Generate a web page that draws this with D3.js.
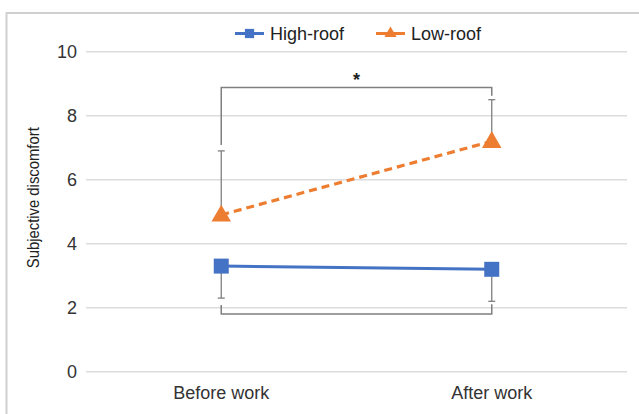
<!DOCTYPE html>
<html>
<head>
<meta charset="utf-8">
<script src="https://cdn.jsdelivr.net/npm/d3@7"></script>
<style>
  html, body { margin: 0; padding: 0; background: #fff; }
  svg { display: block; font-family: "Liberation Sans", Arial, sans-serif; }
</style>
</head>
<body>
<svg id="chart" width="639" height="414"></svg>
<script>
// Time points and mean discomfort per roof condition
const categories = ["Before work", "After work"];
const highRoof = [3.3, 3.2];
const lowRoof = [4.9, 7.2];
// Standard deviations (drawn one-sided: low-roof upward, high-roof downward)
const highRoofSD = [1.0, 1.0];
const lowRoofSD = [2.0, 1.3];
const yTicks = [0, 2, 4, 6, 8, 10];
const seriesNames = ["High-roof", "Low-roof"];
// Significance brackets: level in data units, label
const topBracket = { level: 8.88, label: "*" };
const bottomBracket = { level: 1.8, label: "" };

const blue = "#4472C4", orange = "#ED7D31", gray = "#7f7f7f";

const svg = d3.select("#chart");

// Outer frame
svg.append("rect")
  .attr("x", 6.5).attr("y", 13).attr("width", 700).attr("height", 500)
  .attr("fill", "none").attr("stroke", "#d0d0d0").attr("stroke-width", 2);

const plot = { left: 86, right: 627, top: 51.7, bottom: 371.7 };

const x = d3.scaleBand().domain(categories).range([plot.left, plot.right]);
const cx = c => x(c) + x.bandwidth() / 2;
const y = d3.scaleLinear().domain([0, 10]).range([plot.bottom, plot.top]);

// Gridlines
svg.append("g").selectAll("line").data(yTicks).join("line")
  .attr("x1", plot.left).attr("x2", plot.right)
  .attr("y1", d => y(d)).attr("y2", d => y(d))
  .attr("stroke", "#dcdcdc").attr("stroke-width", 1.5);

// Y axis tick labels
const yAxis = svg.append("g")
  .attr("transform", `translate(${plot.left},0)`)
  .call(d3.axisLeft(y).tickValues(yTicks).tickSize(0).tickPadding(9));
yAxis.select(".domain").remove();
yAxis.selectAll("text")
  .attr("font-size", 18).attr("fill", "#333")
  .attr("font-family", "Liberation Sans, Arial, sans-serif");

// X axis labels
const xAxis = svg.append("g")
  .attr("transform", `translate(0,${plot.bottom})`)
  .call(d3.axisBottom(x).tickSize(0).tickPadding(15));
xAxis.select(".domain").remove();
xAxis.selectAll("text")
  .attr("font-size", 18).attr("fill", "#333")
  .attr("font-family", "Liberation Sans, Arial, sans-serif");

// Y axis title
svg.append("text")
  .attr("transform", `translate(39,${(y(0) + y(10)) / 2 - 14}) rotate(-90)`)
  .attr("text-anchor", "middle")
  .attr("font-size", 16.5).attr("fill", "#222")
  .attr("textLength", 141).attr("lengthAdjust", "spacingAndGlyphs")
  .text("Subjective discomfort");

// Error bars
function errorBars(means, sds, dir) {
  const g = svg.append("g").attr("stroke", gray).attr("stroke-width", 1.3);
  categories.forEach((c, i) => {
    const end = means[i] + dir * sds[i];
    g.append("line").attr("x1", cx(c)).attr("x2", cx(c))
      .attr("y1", y(means[i])).attr("y2", y(end));
    g.append("line").attr("x1", cx(c) - 3.5).attr("x2", cx(c) + 3.5)
      .attr("y1", y(end)).attr("y2", y(end));
  });
}
errorBars(lowRoof, lowRoofSD, 1);
errorBars(highRoof, highRoofSD, -1);

// Brackets
function bracket(level, ends, label) {
  const g = svg.append("g");
  const x0 = cx(categories[0]), x1 = cx(categories[1]);
  g.append("path")
    .attr("d", `M${x0},${ends[0]} V${y(level)} H${x1} V${ends[1]}`)
    .attr("fill", "none").attr("stroke", gray).attr("stroke-width", 1.5);
  if (label) {
    g.append("text")
      .attr("x", (x0 + x1) / 2).attr("y", y(level) - 2)
      .attr("text-anchor", "middle")
      .attr("font-size", 18).attr("font-weight", "bold").attr("fill", "#222")
      .text(label);
  }
}
bracket(topBracket.level,
  [y(lowRoof[0] + lowRoofSD[0]) - 6, y(lowRoof[1] + lowRoofSD[1]) - 4],
  topBracket.label);
bracket(bottomBracket.level,
  [y(highRoof[0] - highRoofSD[0]) + 7, y(highRoof[1] - highRoofSD[1]) + 3],
  bottomBracket.label);

// Lines
const line = d3.line().x((d, i) => cx(categories[i])).y(d => y(d));
svg.append("path").datum(highRoof).attr("d", line)
  .attr("fill", "none").attr("stroke", blue).attr("stroke-width", 3);
svg.append("path").datum(lowRoof).attr("d", line)
  .attr("fill", "none").attr("stroke", orange).attr("stroke-width", 3.2)
  .attr("stroke-dasharray", "8,5");

// Markers
const square = d3.symbol().type(d3.symbolSquare);
const triangle = d3.symbol().type(d3.symbolTriangle);
svg.append("g").selectAll("path").data(highRoof).join("path")
  .attr("d", square.size(225)())
  .attr("transform", (d, i) => `translate(${cx(categories[i])},${y(d)})`)
  .attr("fill", blue);
svg.append("g").selectAll("path").data(lowRoof).join("path")
  .attr("d", triangle.size(165)())
  .attr("transform", (d, i) => `translate(${cx(categories[i])},${y(d) + 1})`)
  .attr("fill", orange);

// Legend
const legend = svg.append("g");
const legendItems = [
  { name: seriesNames[0], color: blue, sym: square.size(85)(), x: 235 },
  { name: seriesNames[1], color: orange, sym: triangle.size(65)(), x: 376 }
];
legendItems.forEach(it => {
  const g = legend.append("g").attr("transform", `translate(${it.x},33.5)`);
  g.append("line").attr("x1", 0).attr("x2", 29).attr("y1", 0).attr("y2", 0)
    .attr("stroke", it.color).attr("stroke-width", 3);
  g.append("path").attr("d", it.sym).attr("transform", "translate(14.5,0)")
    .attr("fill", it.color);
  g.append("text").attr("x", 35).attr("y", 6.5)
    .attr("font-size", 18).attr("fill", "#222")
    .text(it.name);
});
</script>
</body>
</html>
